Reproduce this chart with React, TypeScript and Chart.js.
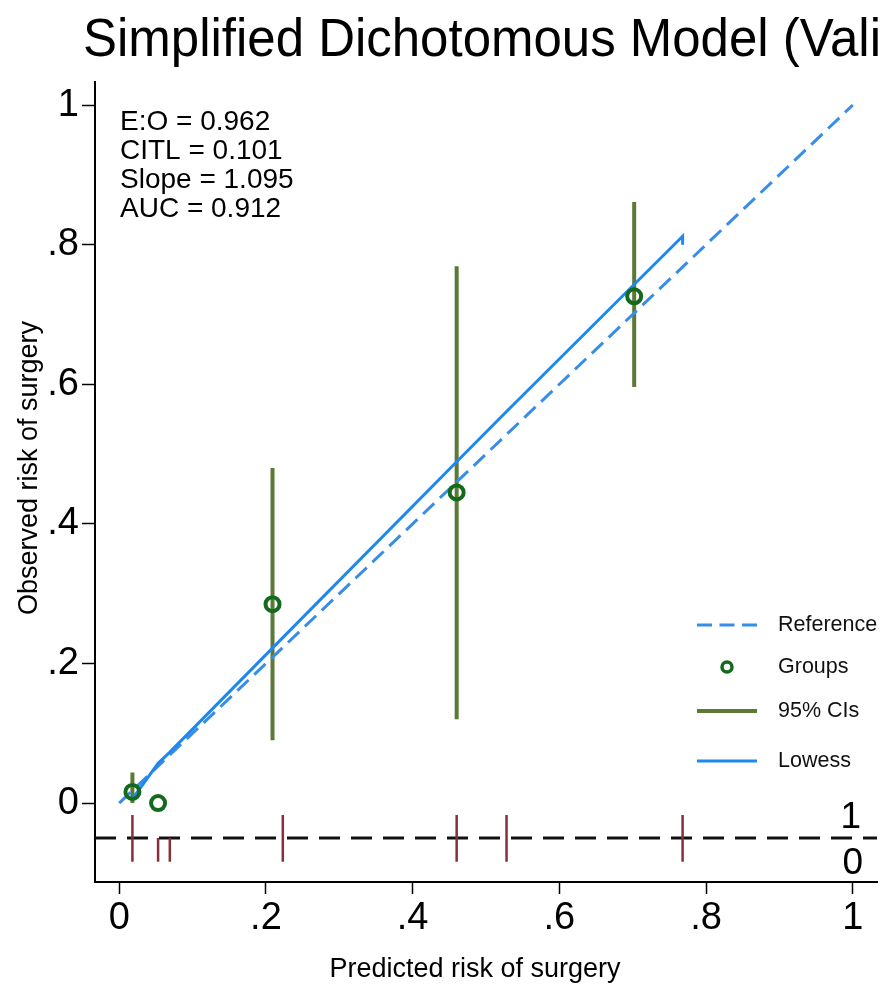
import React, { useEffect, useRef } from "react";
import { Chart, registerables } from "chart.js";

Chart.register(...registerables);

// ---- text ----
const chartTitle = "Simplified Dichotomous Model (Validation)";
const xAxisTitle = "Predicted risk of surgery";
const yAxisTitle = "Observed risk of surgery";
const tickValues = [0, 0.2, 0.4, 0.6, 0.8, 1];
const tickLabels = ["0", ".2", ".4", ".6", ".8", "1"];
const statLines = ["E:O = 0.962", "CITL = 0.101", "Slope = 1.095", "AUC = 0.912"];
const legendLabels = ["Reference", "Groups", "95% CIs", "Lowess"];
const rugLabels = ["1", "0"];

// ---- grouped calibration (predicted vs observed) ----
const groupPredicted = [0.018, 0.053, 0.209, 0.46, 0.702];
const groupObserved = [0.016, 0.0, 0.285, 0.445, 0.726];
const ciLower = [0.0, 0.0, 0.09, 0.12, 0.596];
const ciUpper = [0.044, 0.0, 0.48, 0.769, 0.861];

// ---- lowess smoother ----
const lowessX = [0.018, 0.053, 0.069, 0.223, 0.46, 0.528, 0.768, 0.768];
const lowessY = [0.006, 0.057, 0.073, 0.237, 0.489, 0.561, 0.812, 0.8];

// ---- reference diagonal ----
const referenceX = [0, 1];
const referenceY = [0, 1];

// ---- rug of predicted risks by outcome ----
const rugBaseline = -0.05;
const rugEventX = [0.018, 0.223, 0.46, 0.528, 0.768];
const rugEventTop = -0.017;
const rugNonEventX = [0.018, 0.053, 0.069, 0.223, 0.46, 0.528, 0.768];
const rugNonEventBottom = -0.084;
const rugLineX = [-0.033, 1.033];

// ---- axis ranges ----
const xRange = [-0.033, 1.033];
const yRange = [-0.113, 1.033];

const FONT = "'Liberation Sans', Arial, Helvetica, sans-serif";
const BLUE_REF = "#3a8de6";
const BLUE_LOW = "#1f88f0";
const OLIVE = "#5c7a35";
const GREEN = "#146a1c";
const MAROON = "#8a2e3c";

type Pt = { x: number; y: number | null };

function segments(xs: number[], y0: number[] | number, y1: number[] | number): Pt[] {
  const out: Pt[] = [];
  xs.forEach((x, i) => {
    const a = Array.isArray(y0) ? y0[i] : y0;
    const b = Array.isArray(y1) ? y1[i] : y1;
    out.push({ x, y: a }, { x, y: b }, { x, y: null });
  });
  return out;
}

const overlayPlugin = {
  id: "overlayText",
  afterDraw(chart: any) {
    const ctx = chart.ctx as CanvasRenderingContext2D;
    const ys = chart.scales.y;
    ctx.save();
    ctx.fillStyle = "#000";

    // title (Helvetica-like, slightly condensed)
    ctx.save();
    ctx.font = `54px ${FONT}`;
    ctx.textAlign = "left";
    ctx.textBaseline = "alphabetic";
    ctx.translate(83, 56);
    ctx.scale(0.944, 1);
    ctx.fillText(chartTitle, 0, 0);
    ctx.restore();

    // statistics box
    ctx.font = `28px ${FONT}`;
    ctx.textAlign = "left";
    ctx.textBaseline = "middle";
    statLines.forEach((t, i) => ctx.fillText(t, 120, 122 + i * 29));

    // axis titles
    ctx.font = `27px ${FONT}`;
    ctx.textAlign = "center";
    ctx.fillText(xAxisTitle, 475, 970);
    ctx.save();
    ctx.translate(30, 468);
    ctx.rotate(-Math.PI / 2);
    ctx.fillText(yAxisTitle, 0, 0);
    ctx.restore();

    // rug outcome labels
    ctx.font = `37px ${FONT}`;
    ctx.textAlign = "right";
    const yBase = ys.getPixelForValue(rugBaseline);
    ctx.fillText(rugLabels[0], 861, yBase - 20);
    ctx.fillText(rugLabels[1], 863, yBase + 26);

    // legend
    const legY = [625, 667, 711, 761];
    const sx0 = 697;
    const sx1 = 757;
    ctx.lineCap = "butt";
    ctx.strokeStyle = BLUE_REF;
    ctx.lineWidth = 3;
    ctx.setLineDash([15, 7.5]);
    ctx.beginPath();
    ctx.moveTo(sx0, legY[0]);
    ctx.lineTo(sx1, legY[0]);
    ctx.stroke();
    ctx.setLineDash([]);
    ctx.strokeStyle = GREEN;
    ctx.lineWidth = 3.5;
    ctx.beginPath();
    ctx.arc((sx0 + sx1) / 2, legY[1], 5, 0, Math.PI * 2);
    ctx.stroke();
    ctx.strokeStyle = OLIVE;
    ctx.lineWidth = 4;
    ctx.beginPath();
    ctx.moveTo(sx0, legY[2]);
    ctx.lineTo(sx1, legY[2]);
    ctx.stroke();
    ctx.strokeStyle = BLUE_LOW;
    ctx.lineWidth = 3;
    ctx.beginPath();
    ctx.moveTo(sx0, legY[3]);
    ctx.lineTo(sx1, legY[3]);
    ctx.stroke();

    ctx.fillStyle = "#111";
    ctx.font = `21.5px ${FONT}`;
    ctx.textAlign = "left";
    ctx.textBaseline = "middle";
    legendLabels.forEach((t, i) => ctx.fillText(t, 778, legY[i]));
    ctx.restore();
  },
};

export default function App() {
  const ref = useRef<HTMLCanvasElement | null>(null);

  useEffect(() => {
    if (!ref.current) return;

    const groups = groupPredicted.map((x, i) => ({ x, y: groupObserved[i] }));
    const ciIdx = groupPredicted.map((_, i) => i).filter((i) => ciUpper[i] > ciLower[i]);
    const ciData = segments(
      ciIdx.map((i) => groupPredicted[i]),
      ciIdx.map((i) => ciLower[i]),
      ciIdx.map((i) => ciUpper[i])
    );
    const lowess = lowessX.map((x, i) => ({ x, y: lowessY[i] }));
    const reference = referenceX.map((x, i) => ({ x, y: referenceY[i] }));
    const rugUp = segments(rugEventX, rugBaseline, rugEventTop);
    const rugDown = segments(rugNonEventX, rugBaseline, rugNonEventBottom);
    const rugLine = rugLineX.map((x) => ({ x, y: rugBaseline }));

    const lineDefaults = {
      showLine: true,
      pointRadius: 0,
      pointHoverRadius: 0,
      spanGaps: false,
      tension: 0,
      borderCapStyle: "butt" as const,
    };

    const noScalePadding = (scale: any) => {
      scale.paddingLeft = 0;
      scale.paddingRight = 0;
      scale.paddingTop = 0;
      scale.paddingBottom = 0;
    };

    const chart = new Chart(ref.current, {
      type: "scatter",
      data: {
        datasets: [
          {
            label: "Groups",
            data: groups,
            pointStyle: "circle",
            pointRadius: 7,
            pointBorderWidth: 4,
            borderColor: GREEN,
            backgroundColor: "rgba(0,0,0,0)",
            showLine: false,
          },
          {
            label: "Lowess",
            data: lowess,
            ...lineDefaults,
            borderColor: BLUE_LOW,
            borderWidth: 3,
          },
          {
            label: "Reference",
            data: reference,
            ...lineDefaults,
            borderColor: BLUE_REF,
            borderWidth: 3,
            borderDash: [15.5, 7.8],
          },
          {
            label: "95% CIs",
            data: ciData as any,
            ...lineDefaults,
            borderColor: OLIVE,
            borderWidth: 4,
          },
          {
            label: "rug 1",
            data: rugUp as any,
            ...lineDefaults,
            borderColor: MAROON,
            borderWidth: 2.5,
          },
          {
            label: "rug 0",
            data: rugDown as any,
            ...lineDefaults,
            borderColor: MAROON,
            borderWidth: 2.5,
          },
          {
            label: "rug line",
            data: rugLine,
            ...lineDefaults,
            borderColor: "#111",
            borderWidth: 3,
            borderDash: [21, 11],
          },
        ],
      },
      options: {
        responsive: false,
        animation: false,
        events: [],
        layout: { autoPadding: false, padding: { top: 82, right: 4, left: 0, bottom: 0 } },
        plugins: {
          legend: { display: false },
          title: { display: false },
          tooltip: { enabled: false },
        },
        scales: {
          x: {
            type: "linear",
            min: xRange[0],
            max: xRange[1],
            afterBuildTicks: (scale: any) => {
              scale.ticks = tickValues.map((v) => ({ value: v }));
            },
            afterFit: (scale: any) => {
              scale.height = 105;
              noScalePadding(scale);
            },
            ticks: {
              autoSkip: false,
              maxRotation: 0,
              padding: 2,
              color: "#000",
              font: { family: FONT, size: 38 },
              callback: (v: any) => tickLabels[tickValues.indexOf(Number(v))] ?? "",
            },
            grid: {
              drawOnChartArea: false,
              drawTicks: true,
              tickLength: 12,
              tickWidth: 1.5,
              tickColor: "#000",
            },
            border: { display: true, color: "#000", width: 2 },
          },
          y: {
            type: "linear",
            min: yRange[0],
            max: yRange[1],
            afterBuildTicks: (scale: any) => {
              scale.ticks = tickValues.map((v) => ({ value: v }));
            },
            afterFit: (scale: any) => {
              scale.width = 95;
              noScalePadding(scale);
            },
            ticks: {
              autoSkip: false,
              padding: 3,
              color: "#000",
              font: { family: FONT, size: 38 },
              callback: (v: any) => tickLabels[tickValues.indexOf(Number(v))] ?? "",
            },
            grid: {
              drawOnChartArea: false,
              drawTicks: true,
              tickLength: 13,
              tickWidth: 1.5,
              tickColor: "#000",
            },
            border: { display: true, color: "#000", width: 2 },
          },
        },
      },
      plugins: [overlayPlugin],
    });

    return () => chart.destroy();
  }, []);

  return (
    <div style={{ position: "absolute", left: 0, top: 0, width: 881, height: 987, background: "#fff" }}>
      <canvas ref={ref} width={881} height={987} style={{ display: "block" }} />
    </div>
  );
}
